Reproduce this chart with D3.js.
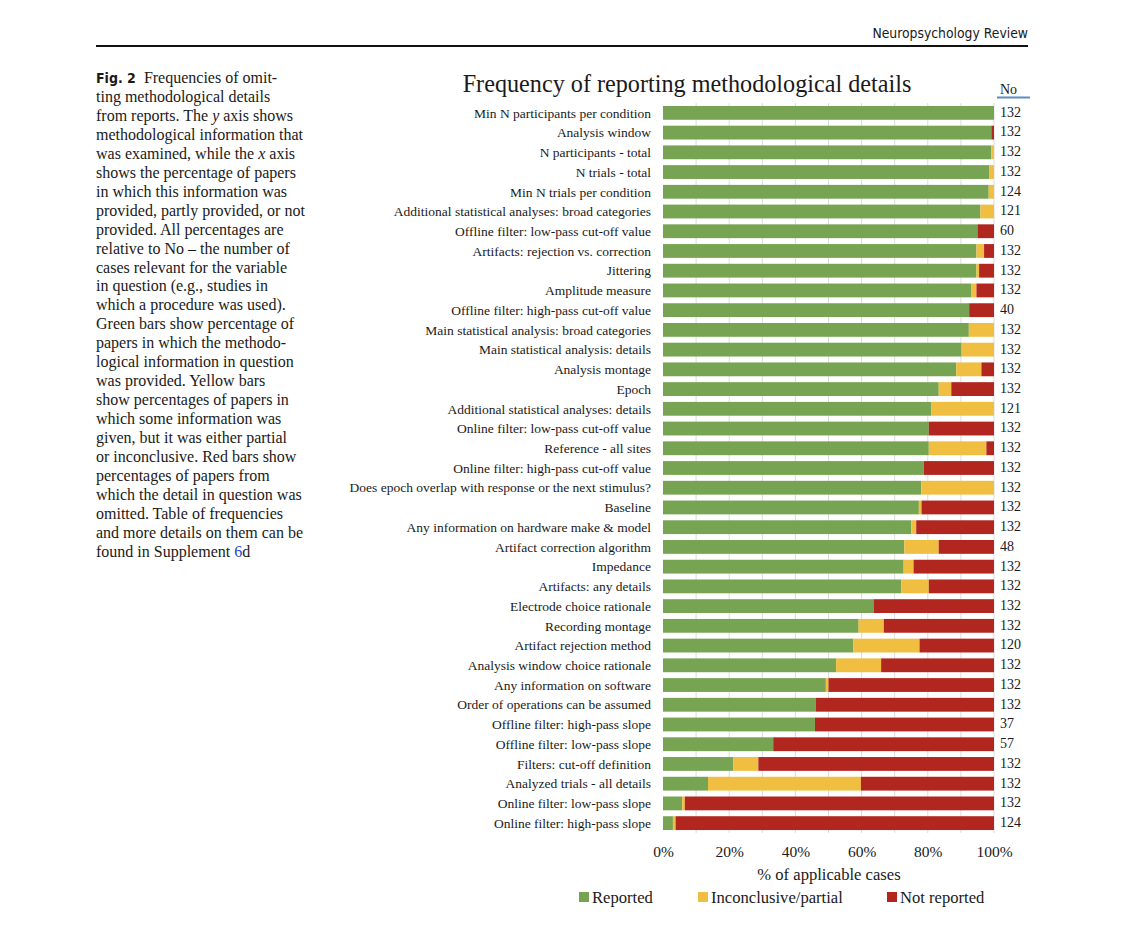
<!DOCTYPE html>
<html lang="en">
  <head>
    <meta charset="UTF-8" />
    <title>Frequency of reporting methodological details</title>
    <script src="https://d3js.org/d3.v7.min.js"></script>
    <style>
      body { margin: 0; background: #fff; }
      svg text { font-family: "Liberation Serif", "Times New Roman", serif; fill: #1a1a1a; }
    </style>
  </head>
  <body>
    <svg width="1124" height="926"></svg>
    <script>
      // data (percent of applicable cases)
      var categories = [
        "Min N participants per condition",
        "Analysis window",
        "N participants - total",
        "N trials - total",
        "Min N trials per condition",
        "Additional statistical analyses: broad categories",
        "Offline filter: low-pass cut-off value",
        "Artifacts: rejection vs. correction",
        "Jittering",
        "Amplitude measure",
        "Offline filter: high-pass cut-off value",
        "Main statistical analysis: broad categories",
        "Main statistical analysis: details",
        "Analysis montage",
        "Epoch",
        "Additional statistical analyses: details",
        "Online filter: low-pass cut-off value",
        "Reference - all sites",
        "Online filter: high-pass cut-off value",
        "Does epoch overlap with response or the next stimulus?",
        "Baseline",
        "Any information on hardware make & model",
        "Artifact correction algorithm",
        "Impedance",
        "Artifacts: any details",
        "Electrode choice rationale",
        "Recording montage",
        "Artifact rejection method",
        "Analysis window choice rationale",
        "Any information on software",
        "Order of operations can be assumed",
        "Offline filter: high-pass slope",
        "Offline filter: low-pass slope",
        "Filters: cut-off definition",
        "Analyzed trials - all details",
        "Online filter: low-pass slope",
        "Online filter: high-pass slope"
      ];
      var reported = [100, 99.2, 99.2, 98.5, 98.4, 95.9, 95, 94.7, 94.7, 93.2, 92.5, 92.4, 90.2,
        88.6, 83.3, 81, 80.3, 80.3, 78.8, 78, 77.3, 75, 72.9, 72.7, 72, 63.6, 59.1, 57.5,
        52.3, 49.2, 46.2, 45.9, 33.3, 21.2, 13.6, 5.8, 3];
      var partial = [0, 0, 0.8, 1.5, 1.6, 4.1, 0, 2.3, 0.8, 1.5, 0, 7.6, 9.8,
        7.6, 3.8, 19, 0, 17.4, 0, 22, 0.8, 1.5, 10.4, 3, 8.3, 0, 7.6, 20,
        13.6, 0.8, 0, 0, 0, 7.6, 46.2, 0.8, 0.8];
      var notReported = [0, 0.8, 0, 0, 0, 0, 5, 3, 4.5, 5.3, 7.5, 0, 0,
        3.8, 12.9, 0, 19.7, 2.3, 21.2, 0, 21.9, 23.5, 16.7, 24.3, 19.7, 36.4, 33.3, 22.5,
        34.1, 50, 53.8, 54.1, 66.7, 71.2, 40.2, 93.4, 96.2];
      var nCases = [132, 132, 132, 132, 124, 121, 60, 132, 132, 132, 40, 132, 132, 132, 132, 121,
        132, 132, 132, 132, 132, 132, 48, 132, 132, 132, 132, 120, 132, 132, 132, 37, 57,
        132, 132, 132, 124];
      var seriesKeys = ["Reported", "Inconclusive/partial", "Not reported"];
      var seriesColors = ["#77a452", "#f0be40", "#b1261f"];
      var xTicks = [0, 20, 40, 60, 80, 100];

      var caption = [
        "ting methodological details",
        "from reports. The <i>y</i> axis shows",
        "methodological information that",
        "was examined, while the <i>x</i> axis",
        "shows the percentage of papers",
        "in which this information was",
        "provided, partly provided, or not",
        "provided. All percentages are",
        "relative to No \u2013 the number of",
        "cases relevant for the variable",
        "in question (e.g., studies in",
        "which a procedure was used).",
        "Green bars show percentage of",
        "papers in which the methodo-",
        "logical information in question",
        "was provided. Yellow bars",
        "show percentages of papers in",
        "which some information was",
        "given, but it was either partial",
        "or inconclusive. Red bars show",
        "percentages of papers from",
        "which the detail in question was",
        "omitted. Table of frequencies",
        "and more details on them can be",
        "found in Supplement <b>6</b>d"
      ];

      var svg = d3.select("svg");

      // journal header
      svg.append("text")
        .attr("x", 1028).attr("y", 38)
        .attr("text-anchor", "end")
        .style("font-family", "'Liberation Sans Narrow', 'DejaVu Sans Condensed', sans-serif")
        .style("font-size", "13.8px")
        .text("Neuropsychology Review");
      svg.append("line")
        .attr("x1", 96).attr("x2", 1028)
        .attr("y1", 46).attr("y2", 46)
        .attr("stroke", "#111").attr("stroke-width", 2);

      // caption
      var cap = svg.append("g").attr("transform", "translate(96,83)");
      var first = cap.append("text").attr("y", 0).style("font-size", "16px");
      first.append("tspan")
        .style("font-family", "'Liberation Sans Narrow', 'DejaVu Sans Condensed', sans-serif")
        .style("font-weight", "bold")
        .style("font-size", "14px")
        .text("Fig. 2");
      first.append("tspan").text("\u2002Frequencies of omit-");
      caption.forEach(function (line, i) {
        var t = cap.append("text").attr("y", (i + 1) * 18.95).style("font-size", "16px");
        // split on simple markup for italics and the blue link digit
        var parts = line.split(/(<i>.*?<\/i>|<b>.*?<\/b>)/);
        parts.forEach(function (p) {
          if (!p) return;
          if (p.startsWith("<i>")) {
            t.append("tspan").style("font-style", "italic").text(p.replace(/<\/?i>/g, ""));
          } else if (p.startsWith("<b>")) {
            t.append("tspan").style("fill", "#2a3fd1").text(p.replace(/<\/?b>/g, ""));
          } else {
            t.append("tspan").text(p);
          }
        });
      });

      // chart
      var x0 = 663, x1 = 994, yTop = 103, yBottom = 833;
      var x = d3.scaleLinear().domain([0, 100]).range([x0, x1]);
      var y = d3.scaleBand().domain(categories).range([yTop, yBottom]).paddingInner(0.3).paddingOuter(0.15);

      svg.append("text")
        .attr("x", 687).attr("y", 92)
        .attr("text-anchor", "middle")
        .style("font-size", "24.2px")
        .text("Frequency of reporting methodological details");

      // gridlines
      svg.append("g").selectAll("line")
        .data(d3.range(10, 101, 10))
        .join("line")
        .attr("x1", function (d) { return x(d); })
        .attr("x2", function (d) { return x(d); })
        .attr("y1", yTop).attr("y2", yBottom)
        .attr("stroke", "#dcdcdc").attr("stroke-width", 1);

      var rows = categories.map(function (c, i) {
        return { cat: c, "Reported": reported[i], "Inconclusive/partial": partial[i], "Not reported": notReported[i] };
      });
      var stacked = d3.stack().keys(seriesKeys)(rows);

      svg.append("g").selectAll("g")
        .data(stacked)
        .join("g")
        .attr("fill", function (d, i) { return seriesColors[i]; })
        .selectAll("rect")
        .data(function (d) { return d; })
        .join("rect")
        .attr("x", function (d) { return x(d[0]); })
        .attr("width", function (d) { return Math.max(0, Math.min(x(d[1]), x1) - x(d[0])); })
        .attr("y", function (d) { return y(d.data.cat); })
        .attr("height", y.bandwidth());

      // category labels
      svg.append("g").selectAll("text")
        .data(categories)
        .join("text")
        .attr("x", 651)
        .attr("y", function (d) { return y(d) + y.bandwidth() / 2; })
        .attr("dy", "0.35em")
        .attr("text-anchor", "end")
        .style("font-size", "13.5px")
        .text(function (d) { return d; });

      // No column
      svg.append("text")
        .attr("x", 1000).attr("y", 94)
        .style("font-size", "14px")
        .text("No");
      svg.append("line")
        .attr("x1", 997).attr("x2", 1030)
        .attr("y1", 97.5).attr("y2", 97.5)
        .attr("stroke", "#5b8dc6").attr("stroke-width", 2);
      svg.append("g").selectAll("text")
        .data(nCases)
        .join("text")
        .attr("x", 1000)
        .attr("y", function (d, i) { return y(categories[i]) + y.bandwidth() / 2 - 1; })
        .attr("dy", "0.35em")
        .style("font-size", "14px")
        .text(function (d) { return d; });

      // x axis
      var xAxis = svg.append("g")
        .attr("transform", "translate(0," + (yBottom + 7) + ")")
        .call(d3.axisBottom(x).tickValues(xTicks).tickSize(0).tickFormat(function (d) { return d + "%"; }));
      xAxis.select(".domain").remove();
      xAxis.selectAll("text")
        .attr("dy", "0.71em")
        .attr("y", 6)
        .style("font-family", "'Liberation Serif', 'Times New Roman', serif")
        .style("font-size", "15.5px")
        .style("fill", "#1a1a1a");

      svg.append("text")
        .attr("x", 829).attr("y", 880)
        .attr("text-anchor", "middle")
        .style("font-size", "16.6px")
        .text("% of applicable cases");

      // legend
      var legendX = [579, 698, 887];
      var legend = svg.append("g").selectAll("g")
        .data(seriesKeys)
        .join("g")
        .attr("transform", function (d, i) { return "translate(" + legendX[i] + ",892)"; });
      legend.append("rect")
        .attr("width", 10).attr("height", 10)
        .attr("fill", function (d, i) { return seriesColors[i]; });
      legend.append("text")
        .attr("x", 13).attr("y", 11)
        .style("font-size", "16.6px")
        .text(function (d) { return d; });
    </script>
  </body>
</html>
